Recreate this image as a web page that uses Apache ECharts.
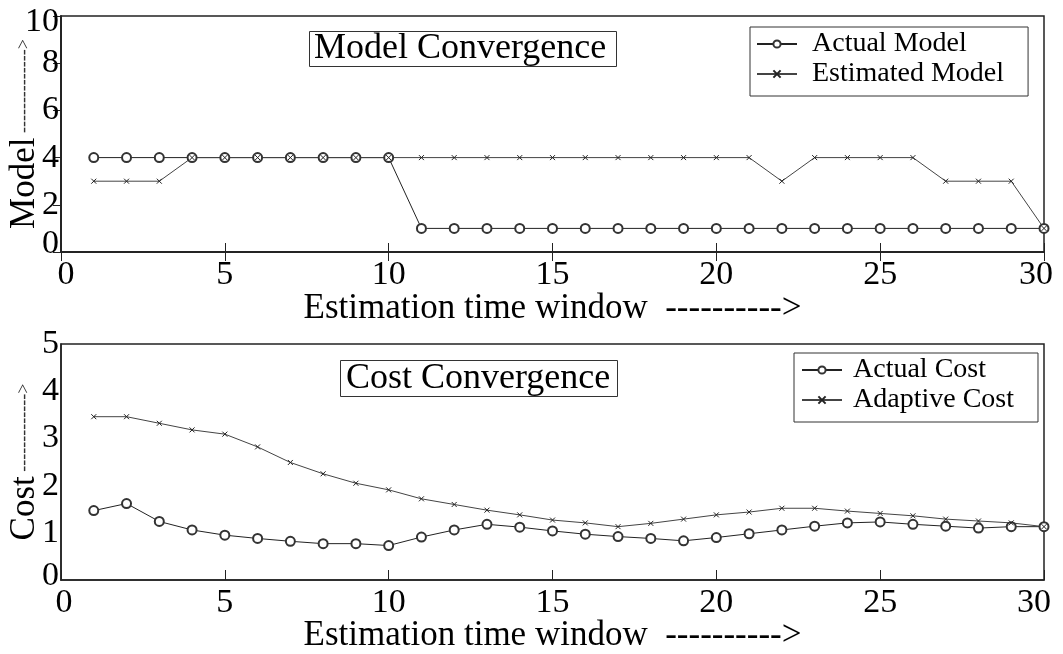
<!DOCTYPE html>
<html>
<head>
<meta charset="utf-8">
<script src="https://cdn.jsdelivr.net/npm/echarts@6/dist/echarts.min.js"></script>
<style>
html,body{margin:0;padding:0;background:#fff;}
#chart{width:1063px;height:654px;}
</style>
</head>
<body>
<div id="chart"></div>
<script>
const windows = [1,2,3,4,5,6,7,8,9,10,11,12,13,14,15,16,17,18,19,20,21,22,23,24,25,26,27,28,29,30];
const actualModel = [4,4,4,4,4,4,4,4,4,4,1,1,1,1,1,1,1,1,1,1,1,1,1,1,1,1,1,1,1,1];
const estimatedModel = [3,3,3,4,4,4,4,4,4,4,4,4,4,4,4,4,4,4,4,4,4,3,4,4,4,4,3,3,3,1];
const actualCost = [1.47,1.62,1.24,1.06,0.95,0.88,0.82,0.77,0.77,0.73,0.91,1.06,1.18,1.12,1.04,0.97,0.92,0.88,0.83,0.90,0.98,1.06,1.14,1.21,1.23,1.18,1.14,1.10,1.13,1.13];
const adaptiveCost = [3.46,3.46,3.32,3.18,3.09,2.82,2.49,2.25,2.05,1.91,1.72,1.60,1.48,1.38,1.27,1.21,1.13,1.20,1.29,1.38,1.44,1.52,1.52,1.46,1.41,1.36,1.29,1.25,1.21,1.13];
const xTicks = [0,5,10,15,20,25,30];
const modelTicks = [0,2,4,6,8,10];
const costTicks = [0,1,2,3,4,5];

const FONT = "'Liberation Serif','Times New Roman',serif";
const INK = '#222';
const crossPath = 'path://M0,0L10,10M10,0L0,10';

function pairs(ys){ return windows.map((x,i)=>[x, ys[i]]); }

const chart = echarts.init(document.getElementById('chart'), null, {renderer:'canvas'});

function xLabel(shiftL, shiftR){
  return {
    fontFamily: FONT, fontSize: 34, color: '#000', margin: 6,
    formatter: v => v === xTicks[0] ? '{a|' + v + '}' : (v === xTicks[xTicks.length-1] ? '{b|' + v + '}' : '{n|' + v + '}'),
    rich: {
      a: {fontFamily: FONT, fontSize: 34, color: '#000', padding: [0,0,0,shiftL]},
      b: {fontFamily: FONT, fontSize: 34, color: '#000', padding: [0,shiftR,0,0]},
      n: {fontFamily: FONT, fontSize: 34, color: '#000'}
    }
  };
}
function yLabel(ticks, lowPad, highPad){
  return {
    fontFamily: FONT, fontSize: 34, color: '#000', margin: 2,
    formatter: v => v === ticks[0] ? '{a|' + v + '}' : (v === ticks[ticks.length-1] ? '{b|' + v + '}' : '{n|' + v + '}'),
    rich: {
      a: {fontFamily: FONT, fontSize: 34, color: '#000', padding: [0,0,lowPad,0]},
      b: {fontFamily: FONT, fontSize: 34, color: '#000', padding: [highPad,0,0,0]},
      n: {fontFamily: FONT, fontSize: 34, color: '#000'}
    }
  };
}
const yNameRich = {
  m: {fontFamily: FONT, fontSize: 35, color: '#000'},
  d: {fontFamily: FONT, fontSize: 18, color: '#333'}
};

const option = {
  animation: false,
  backgroundColor: '#fff',
  title: [
    {text: 'Model Convergence', left: 309, top: 31, padding: [0,10,0,5],
     borderColor: '#333', borderWidth: 1,
     textStyle: {fontFamily: FONT, fontSize: 36, fontWeight: 'normal', color: '#000', lineHeight: 36}},
    {text: 'Cost Convergence', left: 340, top: 361, padding: [0,7,0,6],
     borderColor: '#333', borderWidth: 1,
     textStyle: {fontFamily: FONT, fontSize: 36, fontWeight: 'normal', color: '#000', lineHeight: 35}}
  ],
  legend: [
    {data: ['Actual Model','Estimated Model'], orient: 'vertical', left: 750, top: 27,
     padding: [3,24,8,6], itemGap: 2, itemWidth: 40, itemHeight: 9,
     borderColor: '#333', borderWidth: 1,
     textStyle: {fontFamily: FONT, fontSize: 28, color: '#000', lineHeight: 26, padding: [0,0,0,10]}},
    {data: ['Actual Cost','Adaptive Cost'], orient: 'vertical', left: 794, top: 353,
     padding: [3,24,8,7], itemGap: 2, itemWidth: 40, itemHeight: 9,
     borderColor: '#333', borderWidth: 1,
     textStyle: {fontFamily: FONT, fontSize: 28, color: '#000', lineHeight: 26, padding: [0,0,0,6]}}
  ],
  grid: [
    {left: 61, top: 16, width: 983, height: 236, show: true, borderColor: INK, borderWidth: 1.5,
     containLabel: false, outerBoundsMode: 'none'},
    {left: 61, top: 344, width: 983, height: 236, show: true, borderColor: INK, borderWidth: 1.5,
     containLabel: false, outerBoundsMode: 'none'}
  ],
  xAxis: [
    {type: 'value', gridIndex: 0, min: 0, max: 30, interval: 5, position: 'bottom',
     axisLine: {show: true, lineStyle: {color: INK, width: 1.5}},
     axisTick: {show: true, inside: true, length: 9, lineStyle: {color: INK}},
     splitLine: {show: false},
     axisLabel: xLabel(10, 16),
     name: 'Estimation time window  ---------->', nameLocation: 'middle', nameGap: 39,
     nameMoveOverlap: false,
     nameTextStyle: {fontFamily: FONT, fontSize: 35, color: '#000'}},
    {type: 'value', gridIndex: 0, min: 0, max: 30, interval: 5, position: 'top',
     axisLine: {show: true, lineStyle: {color: INK, width: 1.5}},
     axisTick: {show: true, inside: true, length: 9, lineStyle: {color: INK}},
     axisLabel: {show: false}, splitLine: {show: false}},
    {type: 'value', gridIndex: 1, min: 0, max: 30, interval: 5, position: 'bottom',
     axisLine: {show: true, lineStyle: {color: INK, width: 1.5}},
     axisTick: {show: true, inside: true, length: 10, lineStyle: {color: INK}},
     splitLine: {show: false},
     axisLabel: xLabel(6, 20),
     name: 'Estimation time window  ---------->', nameLocation: 'middle', nameGap: 38,
     nameMoveOverlap: false,
     nameTextStyle: {fontFamily: FONT, fontSize: 35, color: '#000'}}
  ],
  yAxis: [
    {type: 'value', gridIndex: 0, min: 0, max: 10, interval: 2,
     axisLine: {show: true, lineStyle: {color: INK, width: 1.5}},
     axisTick: {show: false}, splitLine: {show: false},
     axisLabel: yLabel(modelTicks, 16, 12),
     name: '{m|Model}{d| -------------->}', nameLocation: 'middle', nameGap: 19,
     nameMoveOverlap: false,
     nameTextStyle: {fontFamily: FONT, fontSize: 35, color: '#000', rich: yNameRich}},
    {type: 'value', gridIndex: 0, min: 0, max: 10, interval: 2, position: 'right',
     axisLine: {show: true, lineStyle: {color: INK, width: 1.5}},
     axisTick: {show: true, inside: true, length: 8, lineStyle: {color: INK}},
     axisLabel: {show: false}, splitLine: {show: false}},
    {type: 'value', gridIndex: 1, min: 0, max: 5, interval: 1,
     axisLine: {show: true, lineStyle: {color: INK, width: 1.5}},
     axisTick: {show: false}, splitLine: {show: false},
     axisLabel: yLabel(costTicks, 8, 0),
     name: '{m|Cost}{d| ------------->}', nameLocation: 'middle', nameGap: 19,
     nameMoveOverlap: false,
     nameTextStyle: {fontFamily: FONT, fontSize: 35, color: '#000', rich: yNameRich}}
  ],
  series: [
    {name: 'Actual Model', type: 'line', xAxisIndex: 0, yAxisIndex: 0, data: pairs(actualModel),
     symbol: 'emptyCircle', symbolSize: 9, lineStyle: {color: INK, width: 1},
     itemStyle: {color: '#333', borderColor: '#333', borderWidth: 0.9}},
    {name: 'Estimated Model', type: 'line', xAxisIndex: 0, yAxisIndex: 0, data: pairs(estimatedModel),
     symbol: crossPath, symbolSize: 5, lineStyle: {color: '#444', width: 1},
     itemStyle: {color: INK, borderColor: INK, borderWidth: 1}},
    {name: 'Actual Cost', type: 'line', xAxisIndex: 2, yAxisIndex: 2, data: pairs(actualCost),
     symbol: 'emptyCircle', symbolSize: 9, lineStyle: {color: INK, width: 1},
     itemStyle: {color: '#333', borderColor: '#333', borderWidth: 0.9}},
    {name: 'Adaptive Cost', type: 'line', xAxisIndex: 2, yAxisIndex: 2, data: pairs(adaptiveCost),
     symbol: crossPath, symbolSize: 5, lineStyle: {color: '#444', width: 1},
     itemStyle: {color: INK, borderColor: INK, borderWidth: 1}}
  ]
};
chart.setOption(option);
</script>
</body>
</html>
